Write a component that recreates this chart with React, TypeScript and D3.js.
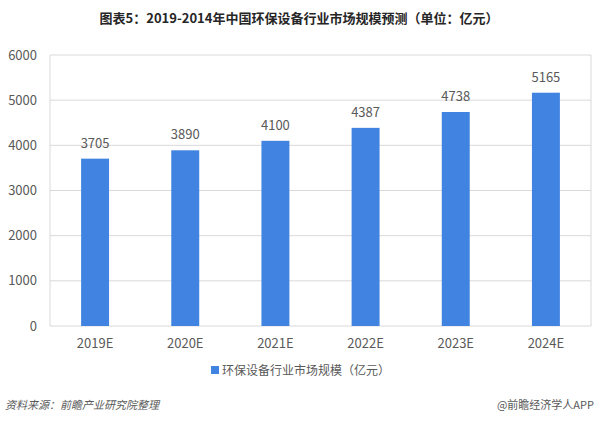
import React from "react";
import * as d3 from "d3";

const categories = ["2019E", "2020E", "2021E", "2022E", "2023E", "2024E"];
const values = [3705, 3890, 4100, 4387, 4738, 5165];
const yTicks = [0, 1000, 2000, 3000, 4000, 5000, 6000];
const titleText = "图表5：2019-2014年中国环保设备行业市场规模预测（单位：亿元）";
const legendText = "环保设备行业市场规模（亿元）";
const sourceText = "资料来源：前瞻产业研究院整理";
const creditText = "@前瞻经济学人APP";

const W = 600;
const H = 421;
const left = 50;
const right = 591;
const top = 55;
const bottom = 326;
const barColor = "#4083E0";
const gridColor = "#D9D9D9";
const textColor = "#595959";
const font = "'Microsoft YaHei', 'Noto Sans CJK SC', sans-serif";

export default function App() {
  const x = d3.scaleBand<string>().domain(categories).range([left, right]).paddingInner(0.69).paddingOuter(0.345);
  const y = d3.scaleLinear().domain([0, 6000]).range([bottom, top]);

  return (
    <svg width={W} height={H} style={{ position: "absolute", left: 0, top: 0, background: "#fff" }} fontFamily={font}>
      <rect x={0} y={0} width={W} height={H} fill="#fff" />
      <text x={299} y={23} textAnchor="middle" fontSize={13} fontWeight="bold" fill="#262626">{titleText}</text>
      {yTicks.map((t) => (
        <g key={t}>
          <line x1={left} x2={right} y1={y(t)} y2={y(t)} stroke={gridColor} strokeWidth={1} />
          <text x={37} y={y(t) + 4.5} textAnchor="end" fontSize={13} fill={textColor}>{t}</text>
        </g>
      ))}
      <line x1={left} x2={left} y1={top} y2={bottom} stroke={gridColor} />
      <line x1={right} x2={right} y1={top} y2={bottom} stroke={gridColor} />
      {categories.map((c, i) => {
        const bx = x(c)!;
        const bw = x.bandwidth();
        const by = y(values[i]);
        return (
          <g key={c}>
            <rect x={bx} y={by} width={bw} height={bottom - by} fill={barColor} />
            <text x={bx + bw / 2} y={by - 11} textAnchor="middle" fontSize={13} fill={textColor}>{values[i]}</text>
            <text x={bx + bw / 2} y={348} textAnchor="middle" fontSize={13} fill={textColor}>{c}</text>
          </g>
        );
      })}
      <rect x={211} y={366} width={8} height={8} fill={barColor} />
      <text x={222} y={375} fontSize={12} fill={textColor}>{legendText}</text>
      <text x={5} y={409} fontSize={11} fontStyle="italic" fill={textColor}>{sourceText}</text>
      <text x={594} y={409} textAnchor="end" fontSize={11} fill={textColor}>{creditText}</text>
    </svg>
  );
}
